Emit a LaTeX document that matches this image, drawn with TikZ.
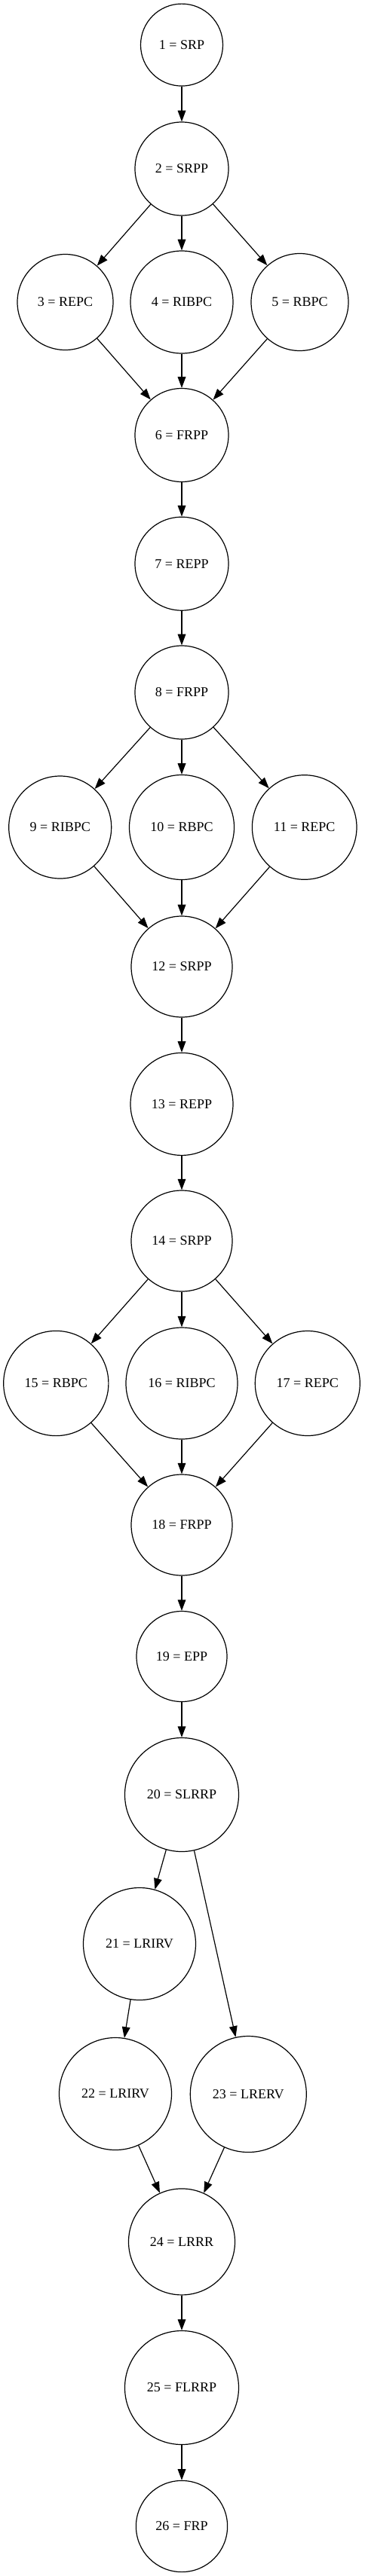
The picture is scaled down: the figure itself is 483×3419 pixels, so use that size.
\documentclass[tikz,border=0pt]{standalone}
\usepackage{fontspec}
\setmainfont{Liberation Serif}
\usetikzlibrary{arrows.meta}
\begin{document}
\begin{tikzpicture}[x=0.75pt,y=-0.75pt,
  st/.style={circle,draw,line width=0.9pt,inner sep=0pt,minimum size=#1*1.5pt,font=\fontsize{13.5}{16}\selectfont},
  ar/.style={line width=0.9pt,-{Triangle[length=11pt,width=8pt]}}]
\useasboundingbox (0,0) rectangle (483,3419);
\node[st=54.5] (n1) at (241,59.6) {1 = SRP};
\node[st=62] (n2) at (241,224) {2 = SRPP};
\node[st=63.5] (n3) at (86.5,401) {3 = REPC};
\node[st=68] (n4) at (241,401) {4 = RIBPC};
\node[st=64.5] (n5) at (397.5,401) {5 = RBPC};
\node[st=62] (n6) at (241,577.5) {6 = FRPP};
\node[st=62] (n7) at (241,748.2) {7 = REPP};
\node[st=62] (n8) at (241,919) {8 = FRPP};
\node[st=68] (n9) at (79.7,1098) {9 = RIBPC};
\node[st=69.5] (n10) at (241,1098) {10 = RBPC};
\node[st=69.3] (n11) at (403.7,1098) {11 = REPC};
\node[st=67] (n12) at (241,1283) {12 = SRPP};
\node[st=68] (n13) at (241,1465.4) {13 = REPP};
\node[st=67] (n14) at (241,1647) {14 = SRPP};
\node[st=69.6] (n15) at (74.3,1836) {15 = RBPC};
\node[st=74] (n16) at (241,1836) {16 = RIBPC};
\node[st=69.5] (n17) at (407.8,1836) {17 = REPC};
\node[st=67] (n18) at (241,2024) {18 = FRPP};
\node[st=60] (n19) at (241,2198.5) {19 = EPP};
\node[st=75.5] (n20) at (241,2382) {20 = SLRRP};
\node[st=74.5] (n21) at (185,2580) {21 = LRIRV};
\node[st=74.5] (n22) at (153,2779) {22 = LRIRV};
\node[st=77] (n23) at (329.3,2779.5) {23 = LRERV};
\node[st=70.5] (n24) at (241,2975.4) {24 = LRRR};
\node[st=75.5] (n25) at (241,3169) {25 = FLRRP};
\node[st=60.6] (n26) at (241,3353) {26 = FRP};
\foreach \a/\b in {n1/n2,n2/n3,n2/n4,n2/n5,n3/n6,n4/n6,n5/n6,n6/n7,n7/n8,
  n8/n9,n8/n10,n8/n11,n9/n12,n10/n12,n11/n12,n12/n13,n13/n14,
  n14/n15,n14/n16,n14/n17,n15/n18,n16/n18,n17/n18,n18/n19,n19/n20,
  n20/n21,n20/n23,n21/n22,n22/n24,n23/n24,n24/n25,n25/n26}
  \draw[ar] (\a) -- (\b);
\end{tikzpicture}
\end{document}
